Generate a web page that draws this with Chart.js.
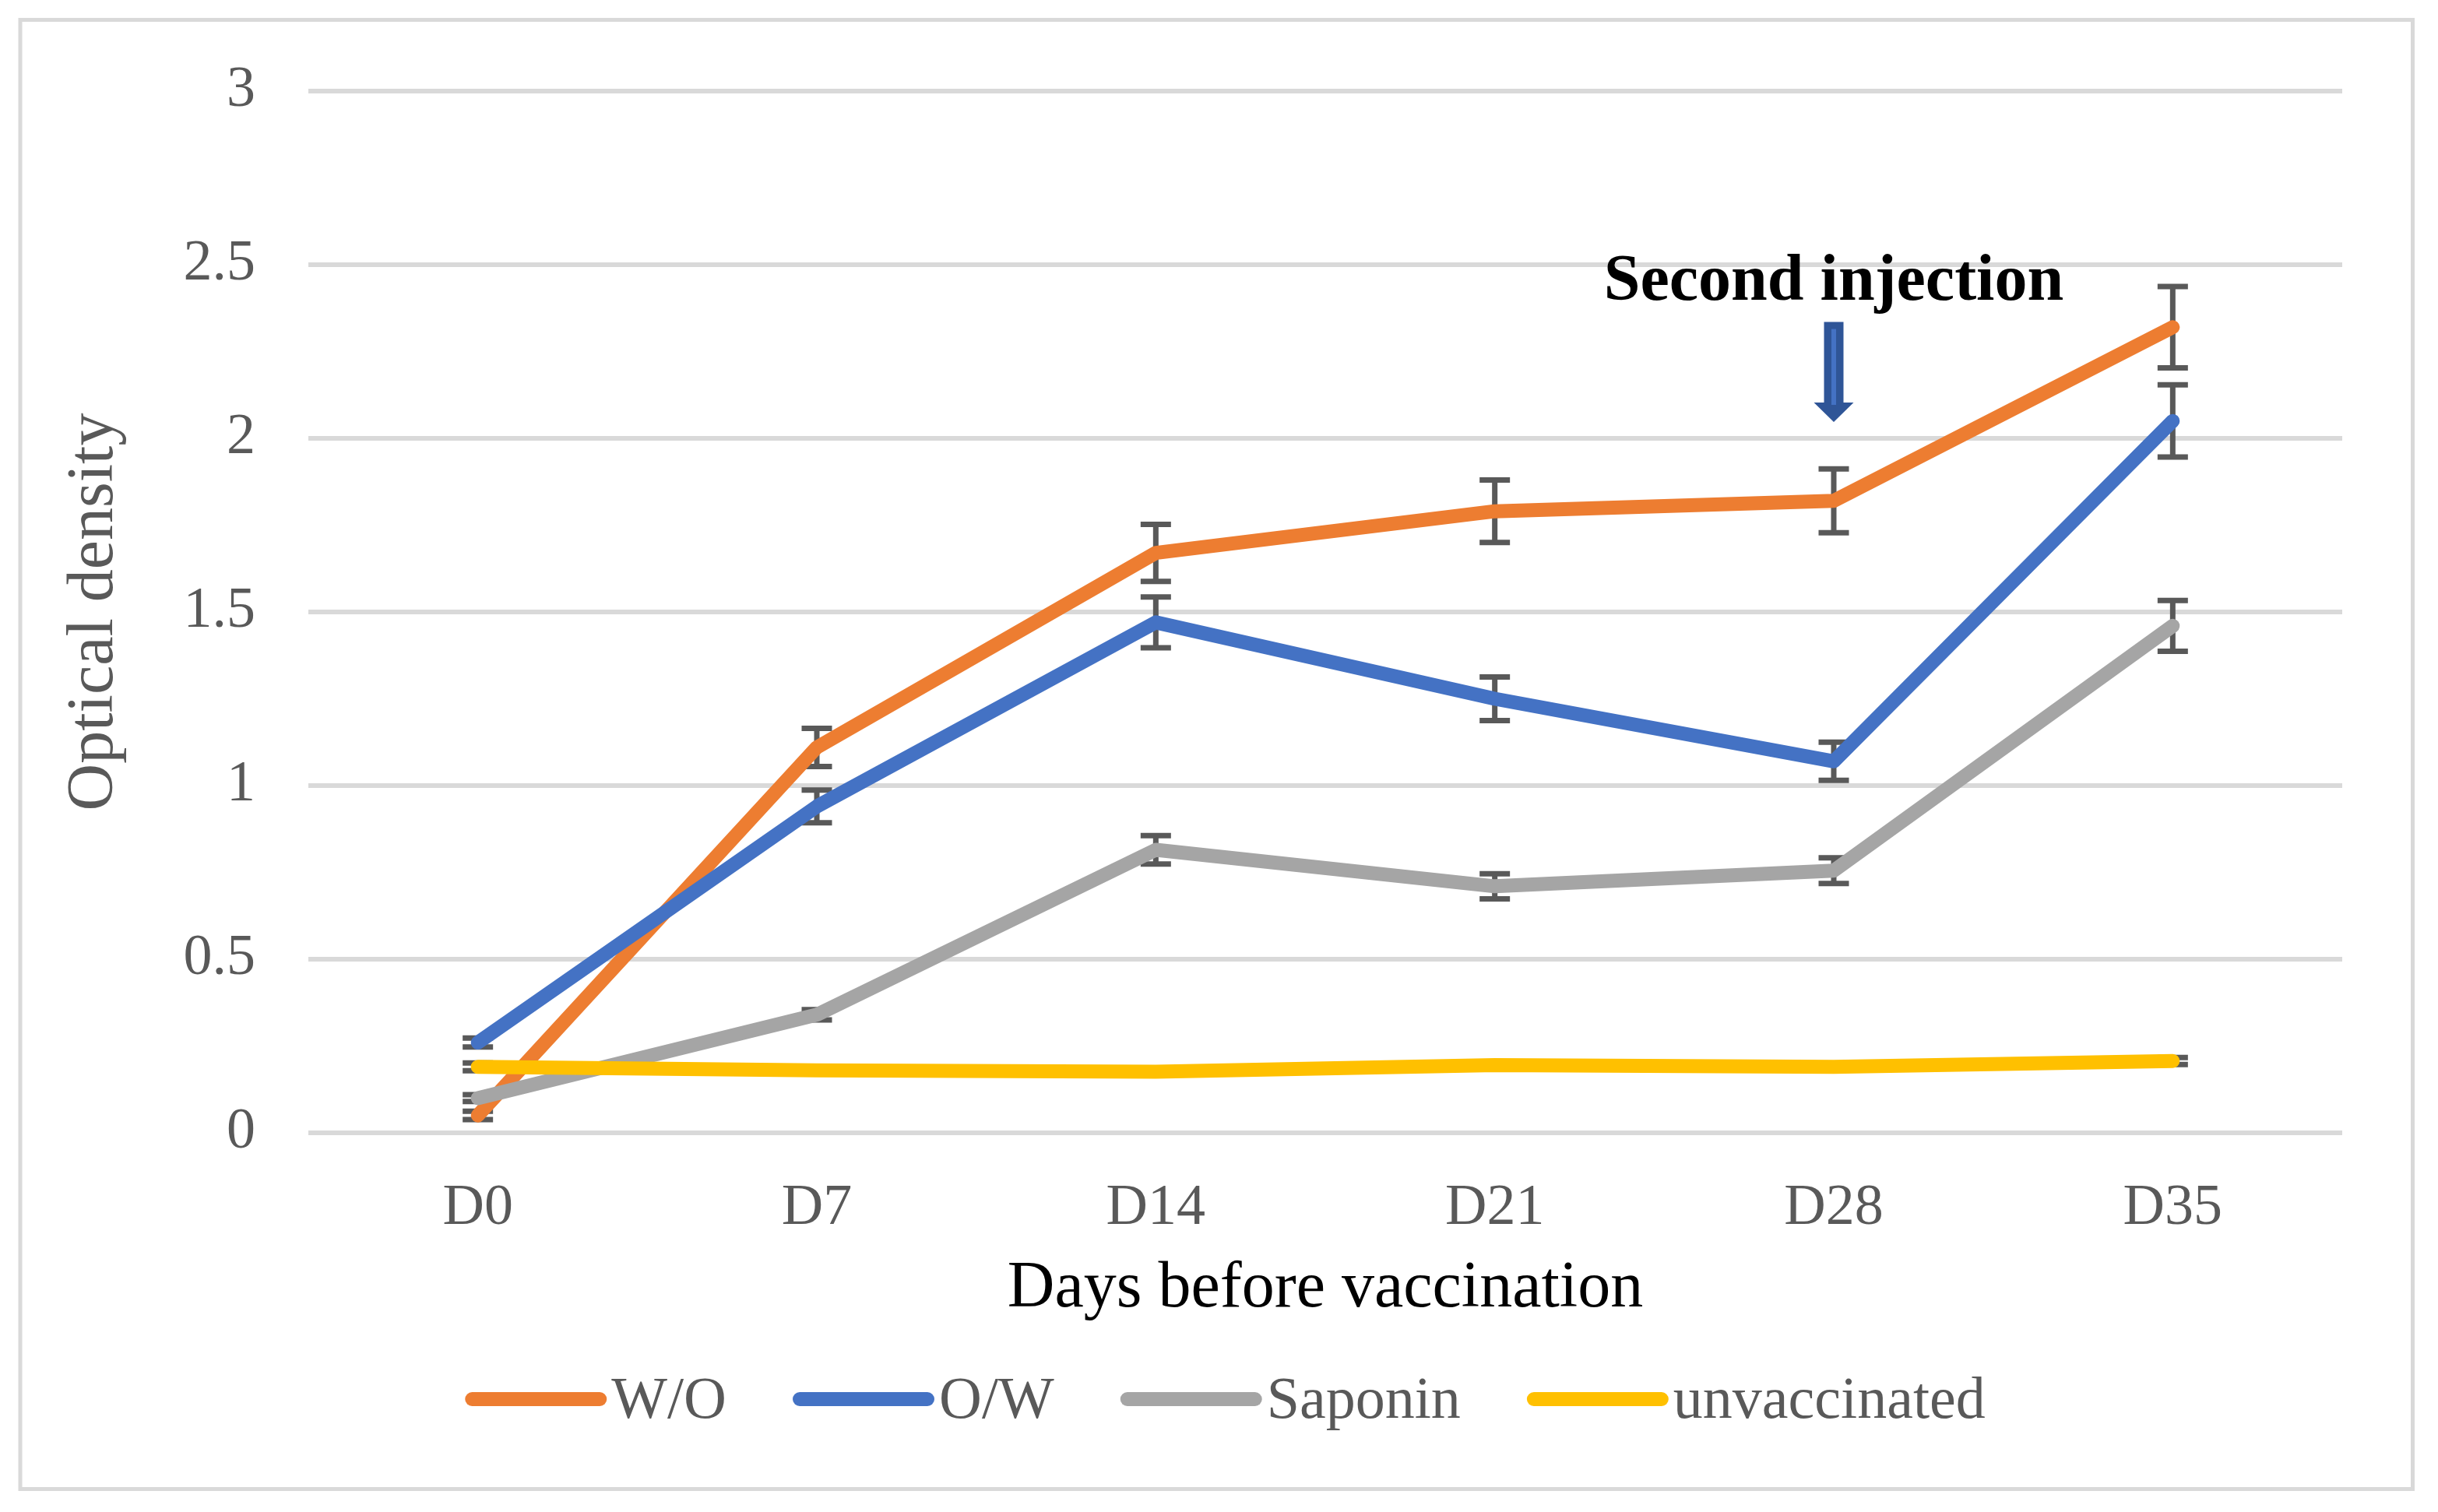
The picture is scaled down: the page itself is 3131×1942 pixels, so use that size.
<!DOCTYPE html>
<html>
<head>
<meta charset="utf-8">
<title>Optical density</title>
<script src="https://cdn.jsdelivr.net/npm/chart.js@4.4.1/dist/chart.umd.min.js"></script>
<style>
  body { margin: 0; background: #fff; }
  canvas { display: block; }
</style>
</head>
<body>
<canvas id="odChart" width="3131" height="1942"></canvas>
<script>
// === data ===
const days = ['D0', 'D7', 'D14', 'D21', 'D28', 'D35'];
const woValues = [0.05, 1.11, 1.67, 1.79, 1.82, 2.32];
const woErrors = [0.012, 0.055, 0.082, 0.09, 0.092, 0.117];
const owValues = [0.26, 0.94, 1.47, 1.25, 1.07, 2.05];
const owErrors = [0.013, 0.047, 0.073, 0.063, 0.055, 0.104];
const saponinValues = [0.10, 0.34, 0.815, 0.71, 0.755, 1.46];
const saponinErrors = [0.01, 0.015, 0.041, 0.036, 0.037, 0.073];
const unvaccValues = [0.19, 0.18, 0.176, 0.195, 0.19, 0.207];
const unvaccErrors = [0.011, 0.008, 0.008, 0.008, 0.008, 0.01];
const yTicks = [0, 0.5, 1, 1.5, 2, 2.5, 3];

// annotation: second injection at D28
const injectionDay = 4;
const injectionText = 'Second injection';
const arrowTop = 2.335, arrowTip = 2.047, injectionTextAt = 2.40;

const serif = '"Liberation Serif", "Times New Roman", serif';
const grey = '#595959';

// error bars, drawn under the lines
const errorBars = {
  id: 'errorBars',
  beforeDatasetsDraw(chart) {
    const {ctx, scales: {x, y}} = chart;
    ctx.save();
    ctx.strokeStyle = grey;
    ctx.lineWidth = 7;
    chart.data.datasets.forEach(ds => {
      ds.data.forEach((v, i) => {
        const px = x.getPixelForValue(i);
        const top = y.getPixelForValue(v + ds.errors[i]);
        const bot = y.getPixelForValue(v - ds.errors[i]);
        ctx.beginPath();
        ctx.moveTo(px, top); ctx.lineTo(px, bot);
        ctx.moveTo(px - 19.5, top); ctx.lineTo(px + 19.5, top);
        ctx.moveTo(px - 19.5, bot); ctx.lineTo(px + 19.5, bot);
        ctx.stroke();
      });
    });
    ctx.restore();
  }
};

// arrow + text over D28
const injection = {
  id: 'injection',
  afterDatasetsDraw(chart) {
    const {ctx, scales: {x, y}} = chart;
    const cx = x.getPixelForValue(injectionDay);
    const top = y.getPixelForValue(arrowTop);
    const tip = y.getPixelForValue(arrowTip);
    const head = tip - 25;
    ctx.save();
    ctx.fillStyle = '#2F5597';
    ctx.beginPath();
    ctx.moveTo(cx - 12.5, top);
    ctx.lineTo(cx + 12.5, top);
    ctx.lineTo(cx + 12.5, head);
    ctx.lineTo(cx + 25.5, head);
    ctx.lineTo(cx, tip);
    ctx.lineTo(cx - 25.5, head);
    ctx.lineTo(cx - 12.5, head);
    ctx.closePath();
    ctx.fill();
    ctx.fillStyle = '#4472C4';
    ctx.fillRect(cx - 3, top + 9, 6, head - top - 6);

    ctx.fillStyle = '#000';
    ctx.font = 'bold 84px ' + serif;
    ctx.textAlign = 'center';
    ctx.textBaseline = 'alphabetic';
    ctx.fillText(injectionText, cx, y.getPixelForValue(injectionTextAt));
    ctx.restore();
  }
};

// legend at the bottom and the outer frame
const frameLegend = {
  id: 'frameLegend',
  afterDraw(chart) {
    const ctx = chart.ctx;
    ctx.save();
    ctx.strokeStyle = '#D9D9D9';
    ctx.lineWidth = 5;
    ctx.strokeRect(26, 25.5, 3072.5, 1887);

    const sample = 164, capR = 9, gapText = 15, gapItem = 85;
    ctx.font = '76px ' + serif;
    const items = chart.data.datasets.map(ds => ({
      label: ds.label, color: ds.borderColor, w: ctx.measureText(ds.label).width
    }));
    let total = gapItem * (items.length - 1);
    items.forEach(it => { total += sample + capR + gapText + it.w; });
    let lx = chart.width / 2 - total / 2 + 8;
    ctx.lineWidth = 18;
    ctx.lineCap = 'round';
    ctx.textAlign = 'left';
    ctx.textBaseline = 'alphabetic';
    items.forEach(it => {
      ctx.strokeStyle = it.color;
      ctx.beginPath();
      ctx.moveTo(lx + capR, 1797);
      ctx.lineTo(lx + capR + sample, 1797);
      ctx.stroke();
      const tx = lx + capR + sample + gapText;
      ctx.fillStyle = grey;
      ctx.fillText(it.label, tx, 1821);
      lx = tx + it.w + gapItem;
    });
    ctx.restore();
  }
};

function lineSet(label, values, errors, color, order) {
  return {
    label: label,
    data: values,
    errors: errors,
    borderColor: color,
    backgroundColor: color,
    borderWidth: 18,
    borderCapStyle: 'round',
    borderJoinStyle: 'round',
    pointRadius: 0,
    pointHoverRadius: 0,
    tension: 0,
    order: order
  };
}

const ctx = document.getElementById('odChart').getContext('2d');
const odChart = new Chart(ctx, {
  type: 'line',
  data: {
    labels: days,
    datasets: [
      lineSet('W/O', woValues, woErrors, '#ED7D31', 4),
      lineSet('O/W', owValues, owErrors, '#4472C4', 3),
      lineSet('Saponin', saponinValues, saponinErrors, '#A5A5A5', 2),
      lineSet('unvaccinated', unvaccValues, unvaccErrors, '#FFC000', 1)
    ]
  },
  options: {
    responsive: false,
    animation: false,
    devicePixelRatio: 1,
    layout: { padding: { top: 117, right: 123, bottom: 0, left: 0 } },
    plugins: {
      legend: { display: false },
      tooltip: { enabled: false }
    },
    scales: {
      x: {
        offset: true,
        grid: { display: false },
        border: { display: false },
        ticks: { color: grey, font: { family: serif, size: 74 }, padding: 45 },
        title: {
          display: true, text: 'Days before vaccination', color: '#000',
          font: { family: serif, size: 84 }, padding: { top: 0, bottom: 236 }
        },
        afterFit(scale) { scale.height = 487; }
      },
      y: {
        min: 0,
        max: 3,
        afterBuildTicks(scale) { scale.ticks = yTicks.map(v => ({ value: v })); },
        ticks: {
          color: grey, font: { family: serif, size: 74 }, padding: 68,
          callback: v => String(v)
        },
        grid: { color: '#D9D9D9', lineWidth: 6, drawTicks: false },
        border: { display: false },
        title: {
          display: true, text: 'Optical density', color: grey,
          font: { family: serif, size: 84 }, padding: { top: 72, bottom: 0 }
        },
        afterFit(scale) { scale.width = 396; }
      }
    }
  },
  plugins: [errorBars, injection, frameLegend]
});
</script>
</body>
</html>
